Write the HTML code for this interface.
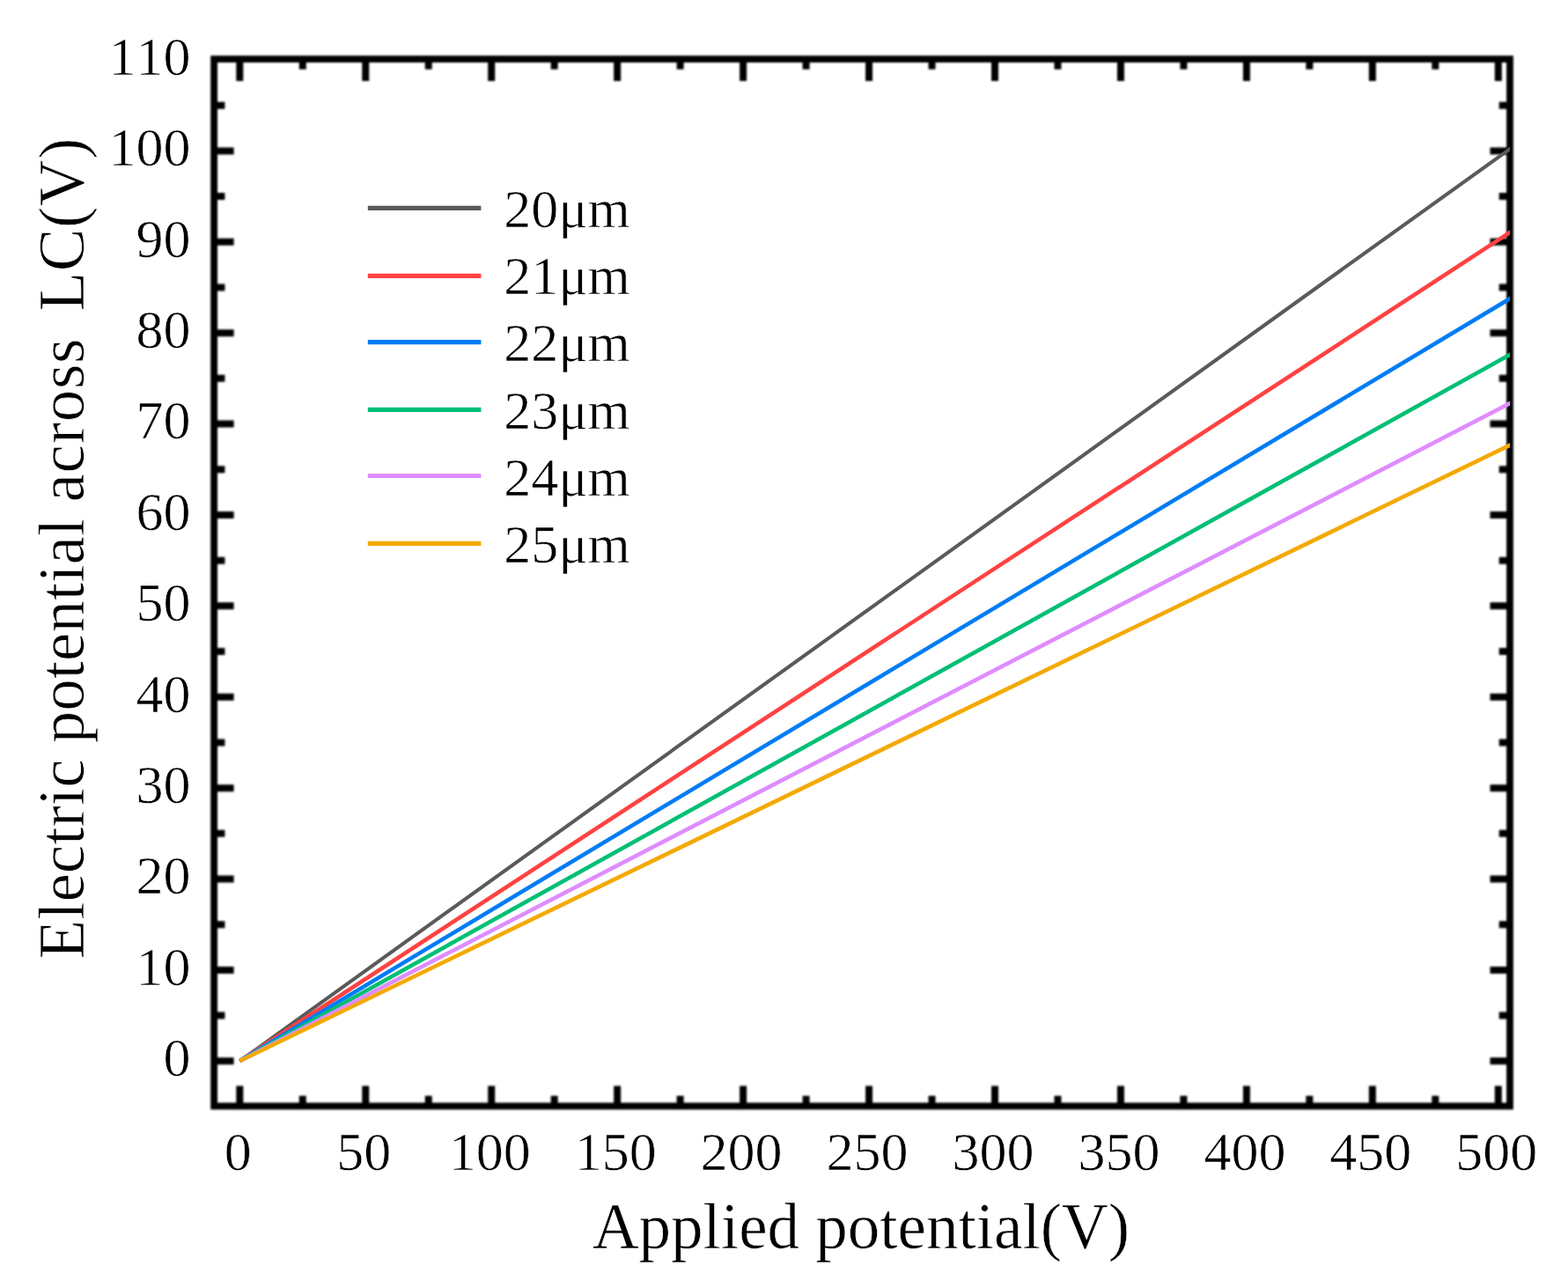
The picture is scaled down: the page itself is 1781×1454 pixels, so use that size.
<!DOCTYPE html>
<html lang="en"><head><meta charset="utf-8"><title>Electric potential across LC vs applied potential</title>
<style>html,body{margin:0;padding:0;background:#fff}body{width:1781px;height:1454px;overflow:hidden}svg{display:block}.gfx{filter:blur(.8px)}text{font-family:"Liberation Serif",serif;white-space:pre;fill:#000;font-kerning:none;font-variant-ligatures:none;stroke:#fff;stroke-width:.6px;stroke-linejoin:round}text.al{stroke-width:.55px}text.yl{stroke-width:.7px}</style>
</head><body>
<svg width="1781" height="1454" viewBox="0 0 1781 1454">
<rect width="1781" height="1454" fill="#fff"/>
<defs><clipPath id="plot"><rect x="243.10" y="67.10" width="1471.90" height="1189.40"/></clipPath></defs>
<g class="gfx">
<g stroke="#000" stroke-width="8.00" fill="none">
<path d="M272.30 67.10V92.00M272.30 1256.50V1233.60"/>
<path d="M343.77 67.10V78.80M343.77 1256.50V1244.80"/>
<path d="M415.25 67.10V92.00M415.25 1256.50V1233.60"/>
<path d="M486.73 67.10V78.80M486.73 1256.50V1244.80"/>
<path d="M558.20 67.10V92.00M558.20 1256.50V1233.60"/>
<path d="M629.67 67.10V78.80M629.67 1256.50V1244.80"/>
<path d="M701.15 67.10V92.00M701.15 1256.50V1233.60"/>
<path d="M772.62 67.10V78.80M772.62 1256.50V1244.80"/>
<path d="M844.10 67.10V92.00M844.10 1256.50V1233.60"/>
<path d="M915.58 67.10V78.80M915.58 1256.50V1244.80"/>
<path d="M987.05 67.10V92.00M987.05 1256.50V1233.60"/>
<path d="M1058.53 67.10V78.80M1058.53 1256.50V1244.80"/>
<path d="M1130.00 67.10V92.00M1130.00 1256.50V1233.60"/>
<path d="M1201.47 67.10V78.80M1201.47 1256.50V1244.80"/>
<path d="M1272.95 67.10V92.00M1272.95 1256.50V1233.60"/>
<path d="M1344.42 67.10V78.80M1344.42 1256.50V1244.80"/>
<path d="M1415.90 67.10V92.00M1415.90 1256.50V1233.60"/>
<path d="M1487.38 67.10V78.80M1487.38 1256.50V1244.80"/>
<path d="M1558.85 67.10V92.00M1558.85 1256.50V1233.60"/>
<path d="M1630.33 67.10V78.80M1630.33 1256.50V1244.80"/>
<path d="M1701.80 67.10V92.00M1701.80 1256.50V1233.60"/>
<path d="M243.10 1205.30H265.60M1715.00 1205.30H1692.50"/>
<path d="M243.10 1153.61H255.40M1715.00 1153.61H1702.70"/>
<path d="M243.10 1101.91H265.60M1715.00 1101.91H1692.50"/>
<path d="M243.10 1050.21H255.40M1715.00 1050.21H1702.70"/>
<path d="M243.10 998.52H265.60M1715.00 998.52H1692.50"/>
<path d="M243.10 946.82H255.40M1715.00 946.82H1702.70"/>
<path d="M243.10 895.13H265.60M1715.00 895.13H1692.50"/>
<path d="M243.10 843.43H255.40M1715.00 843.43H1702.70"/>
<path d="M243.10 791.74H265.60M1715.00 791.74H1692.50"/>
<path d="M243.10 740.04H255.40M1715.00 740.04H1702.70"/>
<path d="M243.10 688.35H265.60M1715.00 688.35H1692.50"/>
<path d="M243.10 636.65H255.40M1715.00 636.65H1702.70"/>
<path d="M243.10 584.96H265.60M1715.00 584.96H1692.50"/>
<path d="M243.10 533.26H255.40M1715.00 533.26H1702.70"/>
<path d="M243.10 481.57H265.60M1715.00 481.57H1692.50"/>
<path d="M243.10 429.87H255.40M1715.00 429.87H1702.70"/>
<path d="M243.10 378.18H265.60M1715.00 378.18H1692.50"/>
<path d="M243.10 326.48H255.40M1715.00 326.48H1702.70"/>
<path d="M243.10 274.79H265.60M1715.00 274.79H1692.50"/>
<path d="M243.10 223.09H255.40M1715.00 223.09H1702.70"/>
<path d="M243.10 171.40H265.60M1715.00 171.40H1692.50"/>
<path d="M243.10 119.70H255.40M1715.00 119.70H1702.70"/>
</g>
<rect x="243.10" y="67.10" width="1471.90" height="1189.40" fill="none" stroke="#000" stroke-width="7.80"/>
</g>
<g clip-path="url(#plot)" fill="none" stroke-width="4.60" stroke-linecap="butt">
<path d="M272.30 1205.30L1730.39 158.10" stroke="#5a5a5a" stroke-width="4.1"/>
<path d="M272.30 1205.30L1730.39 254.07" stroke="#ff4242" stroke-width="4.6"/>
<path d="M272.30 1205.30L1730.39 330.00" stroke="#007cf5" stroke-width="4.6"/>
<path d="M272.30 1205.30L1730.39 394.33" stroke="#00bf75" stroke-width="4.6"/>
<path d="M272.30 1205.30L1730.39 450.22" stroke="#df8cff" stroke-width="4.6"/>
<path d="M272.30 1205.30L1730.39 498.21" stroke="#f4a900" stroke-width="4.6"/>
</g>
<g stroke-width="5.2" stroke-linecap="butt">
<path d="M417.80 236.30H546.40" stroke="#5a5a5a"/>
<path d="M417.80 313.40H546.40" stroke="#ff4242"/>
<path d="M417.80 388.70H546.40" stroke="#007cf5"/>
<path d="M417.80 465.40H546.40" stroke="#00bf75"/>
<path d="M417.80 540.50H546.40" stroke="#df8cff"/>
<path d="M417.80 617.40H546.40" stroke="#f4a900"/>
</g>
<g font-size="62.0">
<text x="572.2" y="257.90">20μm</text>
<text x="572.2" y="334.10">21μm</text>
<text x="572.2" y="410.30">22μm</text>
<text x="572.2" y="486.50">23μm</text>
<text x="572.2" y="562.70">24μm</text>
<text x="572.2" y="638.90">25μm</text>
</g>
<g font-size="62.0" text-anchor="middle">
<text x="270.30" y="1329.2">0</text>
<text x="413.25" y="1329.2">50</text>
<text x="556.20" y="1329.2">100</text>
<text x="699.15" y="1329.2">150</text>
<text x="842.10" y="1329.2">200</text>
<text x="985.05" y="1329.2">250</text>
<text x="1128.00" y="1329.2">300</text>
<text x="1270.95" y="1329.2">350</text>
<text x="1413.90" y="1329.2">400</text>
<text x="1556.85" y="1329.2">450</text>
<text x="1699.80" y="1329.2">500</text>
</g>
<g font-size="62.0" text-anchor="end">
<text x="216.5" y="1222.20">0</text>
<text x="216.5" y="1118.81">10</text>
<text x="216.5" y="1015.42">20</text>
<text x="216.5" y="912.03">30</text>
<text x="216.5" y="808.64">40</text>
<text x="216.5" y="705.25">50</text>
<text x="216.5" y="601.86">60</text>
<text x="216.5" y="498.47">70</text>
<text x="216.5" y="395.08">80</text>
<text x="216.5" y="291.69">90</text>
<text x="216.5" y="188.30">100</text>
<text x="216.5" y="84.91">110</text>
</g>
<text class="al" x="978" y="1418.1" font-size="73" text-anchor="middle">Applied potential(V)</text>
<text class="yl" transform="translate(95.3 1089.4) rotate(-90)" font-size="73" xml:space="preserve">Electric potential <tspan letter-spacing="0.7">across</tspan><tspan dx="-7.2" letter-spacing="0.55">  LC(V)</tspan></text>
</svg>
</body></html>
